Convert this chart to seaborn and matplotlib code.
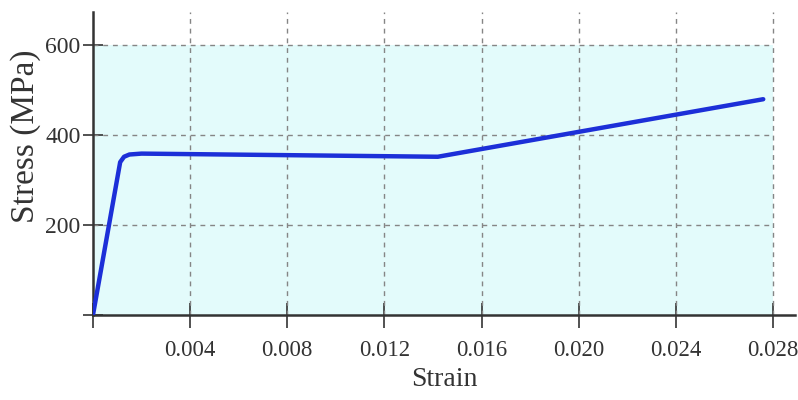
import numpy as np
import pandas as pd
import matplotlib
matplotlib.use("Agg")
import matplotlib.pyplot as plt
import seaborn as sns

# Data
strain = [0.0, 0.00112, 0.00128, 0.00150, 0.00200, 0.01420, 0.02760]
stress = [0.0, 340.0, 352.0, 357.0, 359.0, 352.0, 480.0]
x_ticks = [0.0, 0.004, 0.008, 0.012, 0.016, 0.020, 0.024, 0.028]
x_tick_labels = ["", "0.004", "0.008", "0.012", "0.016", "0.020", "0.024", "0.028"]
y_ticks = [0, 200, 400, 600]
y_tick_labels = ["", "200", "400", "600"]

df = pd.DataFrame({"Strain": strain, "Stress": stress})

sns.set_style("white", {"xtick.bottom": True, "ytick.left": True})
plt.rcParams["font.family"] = ["Liberation Serif", "DejaVu Serif"]

fig = plt.figure(figsize=(7.98, 4.0), dpi=100)
ax = fig.add_axes([0.1165, 0.2125, 0.8795, 0.7575])

ax.set_xlim(0, 0.0289)
ax.set_ylim(0, 674)

# shaded plot region
ax.axhspan(0, y_ticks[-1], xmin=0, xmax=x_ticks[-1] / 0.0289,
           facecolor="#e3fbfb", edgecolor="none", zorder=0)

# grid lines
ax.vlines(x_ticks[1:], 0, 674, colors="#858585", linestyles=(0, (3.5, 3.5)),
          linewidth=1.0, zorder=1)
ax.hlines(y_ticks[1:], 0, x_ticks[-1], colors="#858585", linestyles=(0, (3.5, 3.5)),
          linewidth=1.0, zorder=1)

sns.lineplot(data=df, x="Strain", y="Stress", ax=ax, color="#1c2fd8",
             linewidth=3.2, sort=False, zorder=3)

ax.set_xticks(x_ticks)
ax.set_xticklabels(x_tick_labels, fontsize=16.5, color="#333333")
ax.set_yticks(y_ticks)
ax.set_yticklabels(y_tick_labels, fontsize=17, color="#333333")

ax.tick_params(axis="x", direction="inout", length=18, width=1.2,
               color="#333333", pad=9, bottom=True)
ax.tick_params(axis="y", direction="inout", length=14, width=1.2,
               color="#333333", pad=2, left=True)

for side in ["top", "right"]:
    ax.spines[side].set_visible(False)
for side in ["left", "bottom"]:
    ax.spines[side].set_color("#333333")
    ax.spines[side].set_linewidth(1.8)

ax.set_xlabel("Strain", fontsize=20, color="#333333", labelpad=4)
ax.set_ylabel("Stress (MPa)", fontsize=24, color="#333333")
ax.yaxis.set_label_coords(-0.074, 0.59)

fig.savefig("out.png", dpi=100)
